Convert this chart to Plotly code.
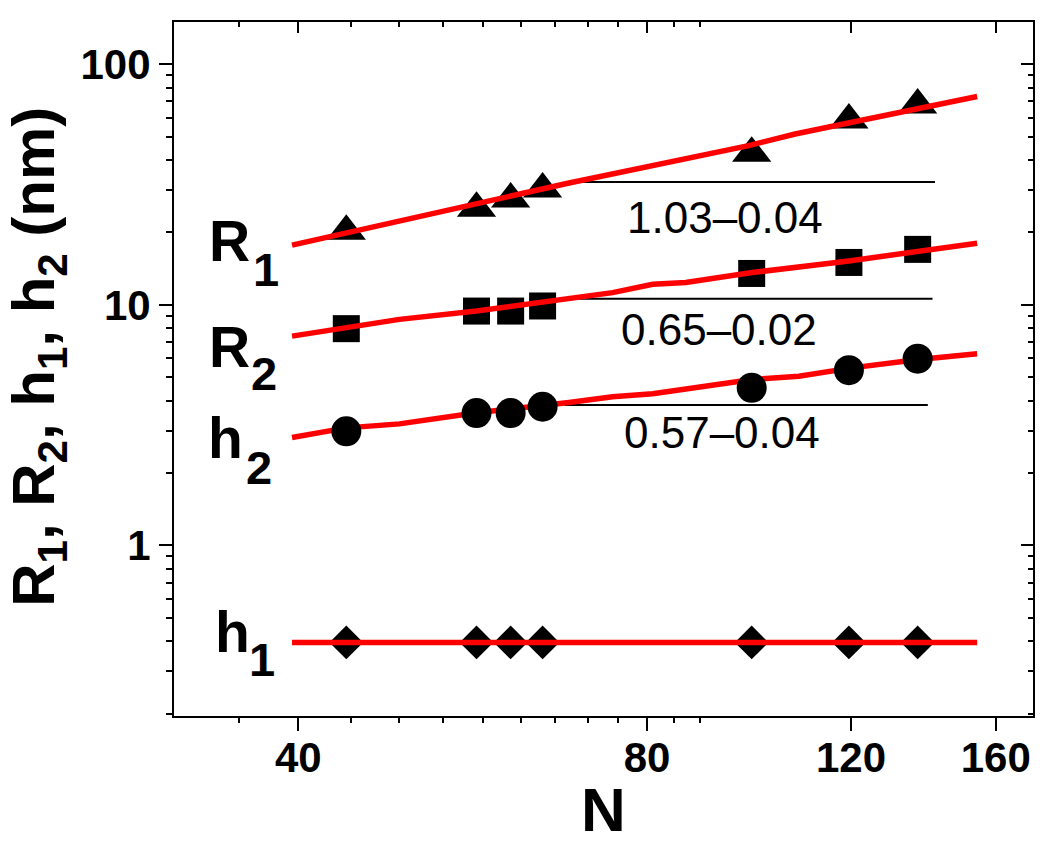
import plotly.graph_objects as go

# ---------------- data ----------------
N = [44, 57, 61, 65, 98.5, 119.5, 137]
R1 = [20.2, 25.2, 27.5, 30.3, 42.7, 58.6, 67.7]
R2 = [7.96, 9.42, 9.42, 9.89, 13.5, 15.0, 17.0]
h2 = [2.98, 3.55, 3.55, 3.77, 4.52, 5.35, 5.97]
h1 = [0.395, 0.395, 0.395, 0.395, 0.395, 0.395, 0.395]

# red fitted curves
fit_R1_N = [39.5, 68.5, 97.9, 101.9, 107.4, 120.2, 154.2]
fit_R1 = [17.7, 32.1, 45.9, 48.1, 51.3, 57.4, 73.4]
fit_R2_N = [39.5, 48.9, 57.0, 68.5, 74.7, 80.9, 86.4, 98.6, 119.5, 154.2]
fit_R2 = [7.41, 8.70, 9.42, 10.6, 11.24, 12.17, 12.38, 13.62, 15.22, 18.04]
fit_h2_N = [39.5, 44.0, 48.9, 57.0, 68.5, 74.7, 80.9, 89.3, 98.6, 108.2, 120.2, 137.2, 154.2]
fit_h2 = [2.81, 3.08, 3.20, 3.56, 3.93, 4.15, 4.27, 4.56, 4.89, 5.05, 5.47, 5.93, 6.26]
fit_h1_N = [39.5, 154.2]
fit_h1 = [0.395, 0.395]

# black reference lines
ref_R1_N = [68.5, 141.8]
ref_R1 = [32.4, 32.4]
ref_R2_N = [68.5, 141.1]
ref_R2 = [10.6, 10.6]
ref_h2_N = [67.9, 139.8]
ref_h2 = [3.83, 3.83]

slope_labels = ["1.03\u20130.04", "0.65\u20130.02", "0.57\u20130.04"]

x_ticks = [40, 80, 120, 160]
x_minor = [40 + 40 * k / 9 for k in range(-2, 12) if k % 9 != 0]
y_ticks = [1, 10, 100]
y_minor = [0.2, 0.3, 0.4, 0.5, 0.6, 0.7, 0.8, 0.9,
           2, 3, 4, 5, 6, 7, 8, 9, 20, 30, 40, 50, 60, 70, 80, 90]

FONT = "Arial, Liberation Sans, sans-serif"
RED = "#ff0000"

# ---------------- layout geometry ----------------
W, H = 1050, 850
L, R, T, B = 174, 17.3, 22.3, 134
PW, PH = W - L - R, H - T - B


def px(xp):
    return (xp - L) / PW


def py(yp):
    return (H - B - yp) / PH


fig = go.Figure()

for xs, ys in [(ref_R1_N, ref_R1), (ref_R2_N, ref_R2), (ref_h2_N, ref_h2)]:
    fig.add_trace(go.Scatter(x=xs, y=ys, mode="lines",
                             line=dict(color="black", width=2),
                             showlegend=False, hoverinfo="skip"))

fig.add_trace(go.Scatter(x=N, y=R1, mode="markers",
                         marker=dict(symbol="triangle-up", size=34, color="black"),
                         showlegend=False))
fig.add_trace(go.Scatter(x=N, y=R2, mode="markers",
                         marker=dict(symbol="square", size=27, color="black"),
                         showlegend=False))
fig.add_trace(go.Scatter(x=N, y=h1, mode="markers",
                         marker=dict(symbol="diamond", size=26, color="black"),
                         showlegend=False))

for xs, ys in [(fit_R1_N, fit_R1), (fit_R2_N, fit_R2), (fit_h1_N, fit_h1), (fit_h2_N, fit_h2)]:
    fig.add_trace(go.Scatter(x=xs, y=ys, mode="lines",
                             line=dict(color=RED, width=5.5),
                             showlegend=False, hoverinfo="skip"))

fig.add_trace(go.Scatter(x=N, y=h2, mode="markers",
                         marker=dict(symbol="circle", size=30, color="black"),
                         showlegend=False))

# dummy trace for mirrored top/right axes
fig.add_trace(go.Scatter(x=[60], y=[1], xaxis="x2", yaxis="y2", mode="markers",
                         marker=dict(opacity=0), showlegend=False, hoverinfo="skip"))

xr = [1.4947, 2.2363]
yr = [-0.709, 2.1755]

common_x = dict(type="log", range=xr, tickmode="array", tickvals=x_ticks,
                ticktext=[str(v) for v in x_ticks], showgrid=False, zeroline=False,
                showline=True, linewidth=2, linecolor="black", automargin=False,
                tickwidth=2, tickcolor="black")
common_y = dict(type="log", range=yr, tickmode="array", tickvals=y_ticks,
                ticktext=[str(v) for v in y_ticks], showgrid=False, zeroline=False,
                showline=True, linewidth=2, linecolor="black", automargin=False,
                tickwidth=2, tickcolor="black")

fig.update_layout(
    width=W, height=H, autosize=False,
    margin=dict(l=L, r=R, t=T, b=B, pad=0, autoexpand=False),
    plot_bgcolor="white", paper_bgcolor="white",
    xaxis=dict(**common_x, ticks="outside", ticklen=13, ticklabelstandoff=-9,
               tickfont=dict(family=FONT, size=42, color="black", weight="bold"),
               minor=dict(tickmode="array", tickvals=x_minor, ticks="outside",
                          ticklen=5, tickwidth=2, tickcolor="black", showgrid=False)),
    xaxis2=dict(**common_x, overlaying="x", side="top", anchor="y2", ticks="inside",
                ticklen=11, showticklabels=False,
                minor=dict(tickmode="array", tickvals=x_minor, ticks="inside",
                           ticklen=5, tickwidth=2, tickcolor="black", showgrid=False)),
    yaxis=dict(**common_y, ticks="outside", ticklen=13,
               tickfont=dict(family=FONT, size=42, color="black", weight="bold"),
               minor=dict(tickmode="array", tickvals=y_minor, ticks="outside",
                          ticklen=6, tickwidth=2, tickcolor="black", showgrid=False)),
    yaxis2=dict(**common_y, overlaying="y", side="right", anchor="x2", ticks="inside",
                ticklen=12, showticklabels=False,
                minor=dict(tickmode="array", tickvals=y_minor, ticks="inside",
                           ticklen=5, tickwidth=2, tickcolor="black", showgrid=False)),
)

ann = []


def add_text(text, xp, yp, size, bold=True, angle=0, xanchor="center"):
    ann.append(dict(text=text, x=px(xp), y=py(yp), xref="paper", yref="paper",
                    xanchor=xanchor, yanchor="middle", showarrow=False, textangle=angle,
                    font=dict(family=FONT, size=size, color="black",
                              weight="bold" if bold else "normal")))


# series labels
add_text("R", 229, 241, 57); add_text("1", 265.8, 269.2, 47)
add_text("R", 229, 347.5, 57); add_text("2", 264.2, 373.7, 47)
add_text("h", 225.3, 438, 57); add_text("2", 259.2, 467.8, 47)
add_text("h", 232.3, 632, 57); add_text("1", 262.3, 659.5, 47)

# slope labels
add_text(slope_labels[0], 725, 217.5, 44, bold=False)
add_text(slope_labels[1], 719.2, 329.2, 44, bold=False)
add_text(slope_labels[2], 721.7, 432.5, 44, bold=False)

# axis titles
add_text("N", 603.3, 809.3, 62)
add_text("R<sub>1</sub>, R<sub>2</sub>, h<sub>1</sub>, h<sub>2</sub> (nm)", 38, 357, 60, angle=-90)

fig.update_layout(annotations=ann)

fig.write_html("out.html", config={"displayModeBar": False},
               post_script="document.body.style.margin='0px';"
                           "document.body.style.overflow='hidden';")
